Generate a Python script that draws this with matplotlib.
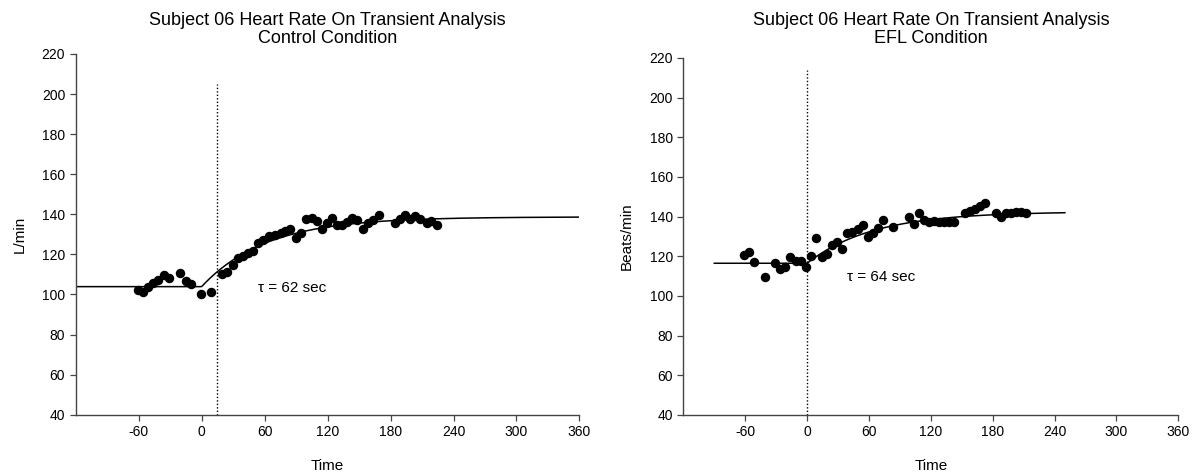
import numpy as np
import matplotlib
matplotlib.use("Agg")
import matplotlib.pyplot as plt

plt.rcParams['font.family'] = ['Liberation Sans', 'DejaVu Sans']
plt.rcParams['axes.unicode_minus'] = False

# control condition, heart rate vs time (s)
ctrl_t = [-60.4, -56.2, -50.8, -46.7, -41.3, -35.6, -30.8, -20.7, -15, -10.5,
          -0.7, 8.9, 19, 24.4, 29.5, 34.3, 39.6, 44.4, 49.2, 53.9,
          58.7, 64.4, 69.8, 75.2, 79.3, 84.1, 89.5, 94.3, 99.5, 104.8,
          109.5, 114.6, 119.3, 124, 128.6, 133.5, 138.5, 143.5, 148.5, 154,
          158.7, 163.5, 168.9, 184.1, 188.9, 193.7, 198.4, 203.2, 208, 214.3,
          219, 223.8]
ctrl_hr = [102.2, 101.4, 103.6, 105.6, 107.2, 109.7, 108.1, 110.9, 106.7, 105.2,
           100.1, 101.2, 110.2, 111.4, 114.5, 118, 119.2, 120.5, 121.8, 125.8,
           127.2, 129.2, 129.7, 130.5, 131.8, 132.7, 128, 130.8, 137.5, 138.3,
           136.7, 132.8, 135.6, 138.3, 134.5, 134.7, 136, 138, 137, 132.8,
           135.6, 137.1, 139.6, 135.8, 137.5, 139.6, 137.5, 139.1, 137.5, 135.5,
           136.7, 134.7]

# EFL condition
efl_t = [-60.8, -55.9, -51.1, -40.7, -30.7, -26.2, -21, -16.5, -10.7, -5.8,
         -1, 3.9, 8.7, 14.5, 19, 23.9, 28.7, 33.9, 38.4, 43.6,
         49, 53.9, 58.7, 63.6, 68.4, 73.3, 82.9, 98.5, 104, 108.8,
         113.7, 118.5, 123.4, 128.2, 133, 137.9, 142.7, 153.4, 157.9, 162.8,
         167.9, 172.7, 183.1, 188, 192.8, 197.7, 202.5, 207.4, 212.2]
efl_hr = [120.7, 122.4, 117.3, 109.7, 116.5, 113.5, 114.8, 119.5, 117.7, 117.7,
          114.8, 120.2, 129.1, 119.5, 121.2, 125.7, 127.4, 123.7, 131.6, 132.4,
          133.6, 135.8, 129.6, 131.6, 134.1, 138.3, 134.7, 140, 136.3, 142,
          138.3, 137.5, 137.8, 137.5, 137.5, 137.5, 137.5, 141.7, 143, 143.7,
          145.4, 147.1, 141.7, 140, 141.7, 142, 142.5, 142.5, 141.7]

# mono-exponential fit parameters: baseline, amplitude, delay, tau, fit range
ctrl_fit = dict(base=103.9, amp=34.8, td=0, tau=62, t0=-120, t1=360)
efl_fit = dict(base=116.5, amp=26.0, td=0, tau=64, t0=-90, t1=250)

ctrl_marker = 15   # dotted marker line
efl_marker = 0


def fit_curve(p):
    t = np.linspace(p['t0'], p['t1'], 600)
    y = p['base'] + p['amp'] * (1 - np.exp(-(t - p['td']) / p['tau']))
    y[t < p['td']] = p['base']
    return t, y


def draw_panel(ax, t, hr, p, marker_t, marker_top, subtitle, ylabel, tau_xy,
               title_pad):
    tf, yf = fit_curve(p)
    ax.plot(tf, yf, color='black', lw=1.1, zorder=2)
    ax.plot(t, hr, 'o', color='black', ms=5.8, zorder=3)
    ax.plot([marker_t, marker_t], [40, marker_top], color='black', lw=1.0,
            ls=(0, (1, 1.5)), zorder=1)
    ax.text(tau_xy[0], tau_xy[1], 'τ = %d sec' % p['tau'], fontsize=11,
            ha='left', va='center')

    ax.set_xlim(-120, 360)
    ax.set_ylim(40, 220)
    ax.set_xticks(np.arange(-60, 361, 60))
    ax.set_yticks(np.arange(40, 221, 20))
    ax.spines['top'].set_visible(False)
    ax.spines['right'].set_visible(False)
    for s in ('left', 'bottom'):
        ax.spines[s].set_color('#444444')
        ax.spines[s].set_linewidth(1.0)
    ax.tick_params(direction='out', length=4, width=0.9, labelsize=10,
                   color='#444444')
    ax.set_xlabel('Time', fontsize=11, labelpad=14)
    ax.set_ylabel(ylabel, fontsize=11, labelpad=11)
    ax.set_title('Subject 06 Heart Rate On Transient Analysis\n' + subtitle,
                 fontsize=13, pad=title_pad, linespacing=1.05)


fig = plt.figure(figsize=(11.97, 4.76), dpi=100)
ax1 = fig.add_axes([0.0632, 0.1288, 0.4209, 0.7578])
ax2 = fig.add_axes([0.5709, 0.1282, 0.4135, 0.7500])

draw_panel(ax1, ctrl_t, ctrl_hr, ctrl_fit, ctrl_marker, 205,
           'Control Condition', 'L/min', (54, 103), 8)
draw_panel(ax2, efl_t, efl_hr, efl_fit, efl_marker, 214,
           'EFL Condition', 'Beats/min', (39, 109.5), 11)

fig.savefig('out.png', dpi=100)
